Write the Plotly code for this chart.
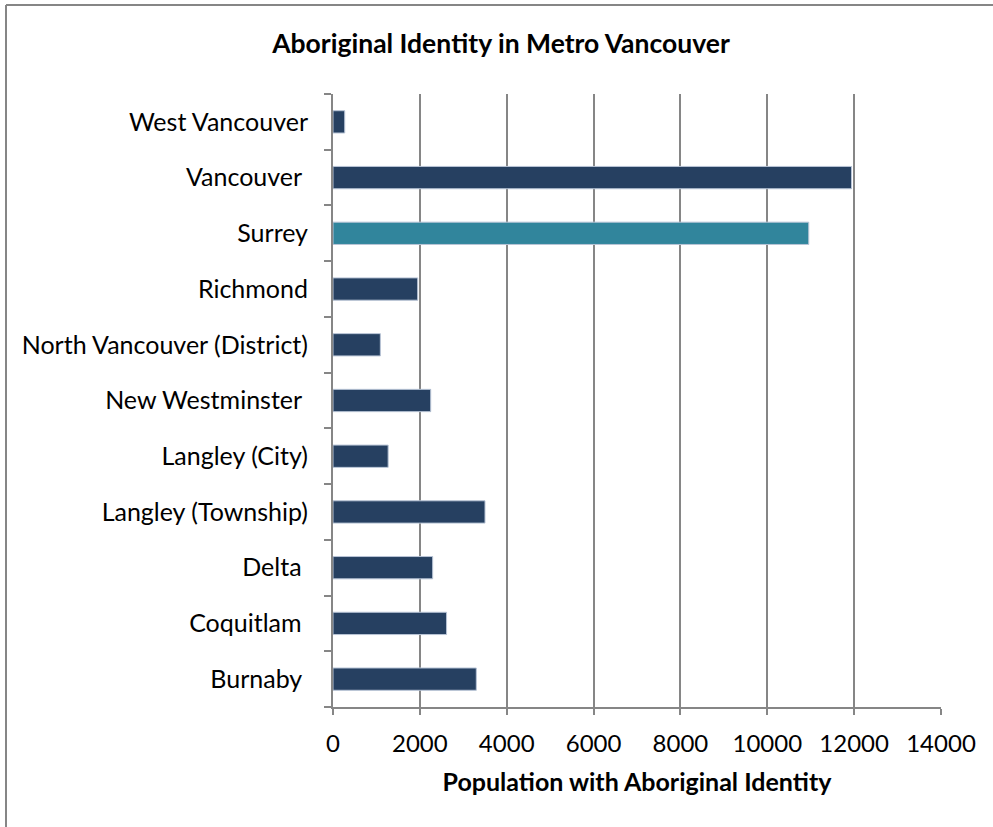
import plotly.graph_objects as go

# Municipalities listed bottom to top as they appear on the category axis
municipalities = [
    "Burnaby\u00a0", "Coquitlam\u00a0", "Delta\u00a0", "Langley (Township)",
    "Langley (City)", "New Westminster\u00a0", "North Vancouver (District)",
    "Richmond", "Surrey", "Vancouver\u00a0", "West Vancouver",
]
aboriginal_population = [3300, 2615, 2295, 3500, 1270, 2250, 1090, 1950, 10955, 11940, 270]
highlight = "Surrey"

x_ticks = [0, 2000, 4000, 6000, 8000, 10000, 12000, 14000]

DARK = "#264061"
TEAL = "#31859C"
GRID = "#868686"
FONT = "Lato"
ZWNJ = "\u200c"  # keeps the "ti" pair from forming a ligature

bar_colors = [TEAL if m == highlight else DARK for m in municipalities]

fig = go.Figure(
    go.Bar(
        x=aboriginal_population,
        y=municipalities,
        orientation="h",
        marker=dict(color=bar_colors, line=dict(color="#B8C4D6", width=1)),
        width=0.4,
    )
)

L, R, T, B = 333, 52, 94, 120
W, H = 993, 827
pw, ph = W - L - R, H - T - B

fig.update_layout(
    width=W,
    height=H,
    margin=dict(l=L, r=R, t=T, b=B),
    paper_bgcolor="white",
    plot_bgcolor="white",
    showlegend=False,
    font=dict(family=FONT, color="black"),
    title=dict(
        text=f"<b>Aboriginal Iden{ZWNJ}ti{ZWNJ}ty in Metro Vancouver</b>",
        x=501 / W,
        xanchor="center",
        y=1 - 44 / H,
        yanchor="middle",
        font=dict(size=26.5, family=FONT),
    ),
    xaxis=dict(
        range=[0, 14000],
        tickvals=x_ticks,
        ticktext=[str(v) for v in x_ticks],
        showgrid=True,
        gridcolor=GRID,
        gridwidth=2,
        zeroline=False,
        showline=True,
        linecolor=GRID,
        linewidth=2,
        ticks="outside",
        ticklen=6,
        tickwidth=2,
        tickcolor=GRID,
        ticklabelstandoff=8,
        tickfont=dict(size=24, family=FONT),
        title=dict(
            text=f"<b>Population with Aboriginal Iden{ZWNJ}ti{ZWNJ}ty</b>",
            font=dict(size=25, family=FONT),
            standoff=18,
        ),
        fixedrange=True,
    ),
    yaxis=dict(
        categoryorder="array",
        categoryarray=municipalities,
        showgrid=False,
        zeroline=False,
        showline=True,
        linecolor=GRID,
        linewidth=2,
        ticks="outside",
        tickson="boundaries",
        ticklen=7,
        tickwidth=2,
        tickcolor=GRID,
        ticklabelstandoff=18,
        tickfont=dict(size=25, family=FONT),
        fixedrange=True,
    ),
    shapes=[
        # chart frame: left edge and top edge
        dict(type="line", xref="paper", yref="paper",
             x0=(6 - L) / pw, x1=(6 - L) / pw,
             y0=-(B + 5) / ph, y1=1 + (T - 5) / ph,
             line=dict(color=GRID, width=2)),
        dict(type="line", xref="paper", yref="paper",
             x0=(6 - L) / pw, x1=(W + 5 - L) / pw,
             y0=1 + (T - 5) / ph, y1=1 + (T - 5) / ph,
             line=dict(color=GRID, width=2)),
    ],
)

fig.write_html("out.html")
